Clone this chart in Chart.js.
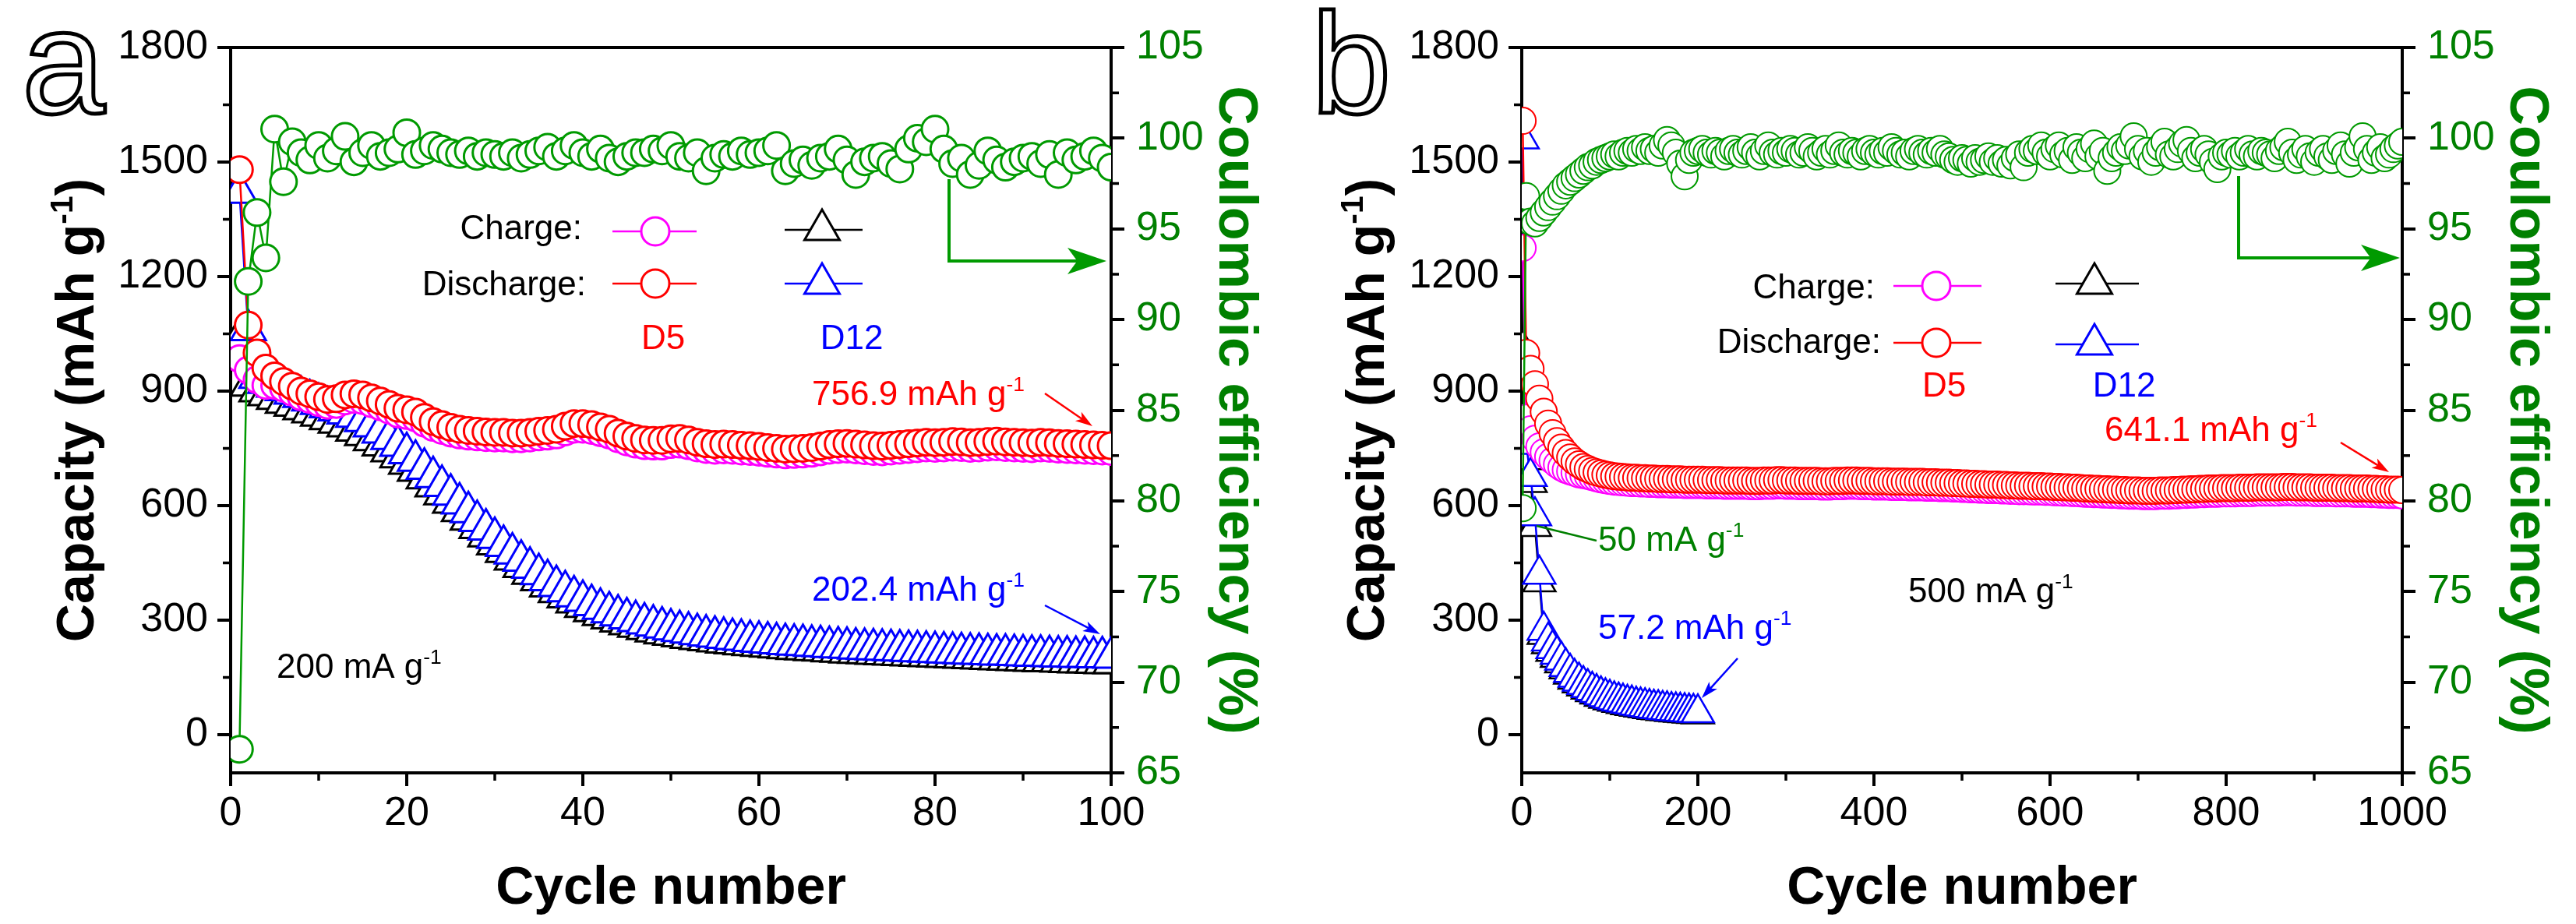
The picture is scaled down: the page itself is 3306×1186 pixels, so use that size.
<!DOCTYPE html>
<html>
<head>
<meta charset="utf-8">
<script src="https://cdn.jsdelivr.net/npm/chart.js@4.4.1/dist/chart.umd.min.js"></script>
<style>
  html, body { margin: 0; padding: 0; background: #fff; }
  #wrap { position: relative; width: 3306px; height: 1186px; }
  canvas { position: absolute; top: 0; }
  #chartA { left: 0; }
  #chartB { left: 1653px; }
</style>
</head>
<body>
<div id="wrap">
  <canvas id="chartA" width="1653" height="1186"></canvas>
  <canvas id="chartB" width="1653" height="1186"></canvas>
</div>
<script>
// ---- Panel a: 200 mA g-1, cycles 1..100 ----
const cyclesA = Array.from({length: 100}, (_, i) => i + 1);

const dischargeD5A = [
  1480, 1073, 1000, 960, 940, 925, 913, 900, 893, 885,
  878, 880, 890, 893, 890, 882, 874, 865, 855, 851,
  845, 831, 820, 812, 805, 800, 797, 795, 793, 792,
  792, 790, 790, 792, 795, 797, 800, 808, 815, 815,
  812, 806, 800, 790, 782, 776, 772, 771, 771, 775,
  776, 772, 766, 762, 760, 761, 760, 758, 757, 755,
  752, 750, 748, 749, 750, 752, 756, 760, 762, 763,
  761, 759, 757, 756, 758, 760, 762, 764, 766, 765,
  766, 768, 767, 765, 766, 768, 769, 767, 766, 765,
  764, 766, 765, 763, 762, 761, 760, 759, 758, 757
];
const chargeD5A = [
  985, 955, 930, 915, 915, 908, 897, 885, 878, 870,
  863, 865, 874, 878, 875, 867, 859, 850, 840, 836,
  830, 816, 805, 797, 790, 785, 782, 780, 778, 777,
  777, 775, 775, 777, 780, 782, 785, 793, 800, 800,
  797, 791, 785, 775, 767, 761, 757, 756, 756, 760,
  761, 757, 751, 747, 745, 746, 745, 743, 742, 740,
  737, 735, 733, 734, 735, 737, 741, 745, 747, 748,
  746, 744, 742, 741, 743, 745, 747, 749, 751, 750,
  751, 753, 752, 750, 751, 753, 754, 752, 751, 750,
  749, 751, 750, 748, 747, 746, 745, 744, 743, 742
];
const dischargeD12A = [
  1420, 1060, 935, 922, 912, 903, 894, 885, 876, 867,
  858, 850, 842, 833, 822, 808, 792, 775, 757, 738,
  718, 697, 675, 652, 629, 606, 583, 560, 538, 516,
  495, 475, 456, 438, 421, 405, 390, 376, 363, 351,
  340, 330, 321, 313, 305, 298, 292, 286, 281, 276,
  272, 268, 264, 260, 257, 254, 251, 249, 246, 244,
  242, 240, 238, 236, 235, 233, 232, 230, 229, 228,
  226, 225, 224, 223, 222, 221, 220, 219, 218, 217,
  216, 215, 214, 213, 212, 211, 210, 210, 209, 208,
  207, 207, 206, 205, 205, 204, 204, 203, 203, 202
];
const chargeD12A = [
  1040, 915, 900, 890, 880, 870, 862, 853, 845, 836,
  827, 818, 808, 797, 785, 772, 758, 743, 727, 710,
  692, 672, 651, 630, 608, 586, 564, 542, 520, 499,
  479, 459, 440, 422, 405, 389, 374, 360, 347, 335,
  324, 314, 305, 297, 290, 283, 277, 271, 266, 262,
  258, 254, 251, 248, 245, 242, 240, 237, 235, 233,
  231, 229, 227, 225, 224, 222, 221, 219, 218, 216,
  215, 214, 212, 211, 210, 209, 208, 207, 206, 205,
  204, 203, 202, 201, 200, 199, 198, 197, 196, 195,
  194, 193, 193, 192, 191, 190, 190, 189, 188, 188
];
const coulombicA = [
  66.3, 92.1, 95.9, 93.4, 100.5, 97.6, 99.8, 99.2, 98.8, 99.6,
  98.9, 99.3, 100.1, 98.7, 99.2, 99.6, 99.0, 99.2, 99.4, 100.3,
  99.1, 99.3, 99.6, 99.4, 99.2, 99.1, 99.3, 99.0, 99.2, 99.1,
  99.0, 99.2, 98.9, 99.1, 99.3, 99.5, 99.0, 99.3, 99.6, 99.2,
  99.0, 99.4, 98.9, 98.7, 99.0, 99.2, 99.2, 99.4, 99.3, 99.6,
  99.0, 98.9, 99.2, 98.2, 98.9, 99.1, 99.0, 99.3, 99.1, 99.2,
  99.3, 99.6, 98.2, 98.6, 98.8, 98.5, 98.9, 99.0, 99.4, 98.8,
  98.0, 98.7, 98.9, 99.0, 98.6, 98.3, 99.4, 100.0, 99.8, 100.5,
  99.4, 98.6, 98.9, 98.0, 98.5, 99.3, 98.8, 98.4, 98.7, 98.9,
  99.0, 98.6, 99.1, 98.0, 99.2, 98.8, 99.0, 99.3, 98.9, 98.4
];

// ---- Panel b: 500 mA g-1, cycles 1, 5, 10 ... 1000 ----
const cyclesB = [1].concat(Array.from({length: 200}, (_, i) => 5 * (i + 1)));
const cyclesB12 = cyclesB.slice(0, 41);

const dischargeD5B = [
  1608, 1000, 958, 918, 880, 846, 815, 790, 769, 752, 738, 726, 716, 708, 701, 696, 691, 687, 684, 681, 679,
  677, 676, 675, 674, 673, 673, 672, 672, 671, 671, 670, 670, 670, 669, 669, 669, 668, 668, 668, 668,
  668, 667, 667, 667, 667, 666, 666, 666, 666, 666, 666, 665, 665, 665, 666, 666, 666, 667, 667, 666,
  666, 666, 665, 665, 665, 665, 665, 664, 664, 664, 665, 665, 665, 666, 666, 666, 665, 665, 665, 664,
  664, 664, 664, 663, 663, 663, 663, 662, 662, 662, 662, 661, 661, 661, 660, 660, 660, 659, 659, 658,
  658, 657, 657, 656, 656, 655, 655, 655, 654, 654, 653, 653, 652, 652, 652, 651, 651, 651, 650, 650,
  649, 649, 648, 648, 647, 647, 646, 645, 645, 644, 644, 643, 643, 642, 642, 641, 641, 640, 640, 640,
  639, 639, 639, 639, 640, 640, 640, 641, 641, 642, 642, 643, 643, 644, 644, 645, 645, 645, 646, 646,
  646, 646, 647, 647, 647, 647, 648, 648, 648, 648, 648, 648, 649, 649, 649, 648, 648, 648, 648, 647,
  647, 647, 647, 647, 646, 646, 646, 646, 645, 645, 645, 645, 644, 644, 643, 643, 642, 642, 642, 641
];
const chargeD5B = [
  1275, 830, 800, 775, 755, 740, 728, 718, 708, 700, 694, 690, 686, 682, 680, 678, 675, 672, 669, 667, 665,
  663, 662, 661, 660, 659, 659, 658, 658, 657, 657, 656, 656, 656, 655, 655, 655, 654, 654, 654, 654,
  654, 653, 653, 653, 653, 652, 652, 652, 652, 652, 652, 651, 651, 651, 652, 652, 652, 653, 653, 652,
  652, 652, 651, 651, 651, 651, 651, 650, 650, 650, 651, 651, 651, 652, 652, 652, 651, 651, 651, 650,
  650, 650, 650, 649, 649, 649, 649, 648, 648, 648, 648, 647, 647, 647, 646, 646, 646, 645, 645, 644,
  644, 643, 643, 642, 642, 641, 641, 641, 640, 640, 639, 639, 638, 638, 638, 637, 637, 637, 636, 636,
  635, 635, 634, 634, 633, 633, 632, 631, 631, 630, 630, 629, 629, 628, 628, 627, 627, 626, 626, 626,
  625, 625, 625, 625, 626, 626, 626, 627, 627, 628, 628, 629, 629, 630, 630, 631, 631, 631, 632, 632,
  632, 632, 633, 633, 633, 633, 634, 634, 634, 634, 634, 634, 635, 635, 635, 634, 634, 634, 634, 633,
  633, 633, 633, 633, 632, 632, 632, 632, 631, 631, 631, 631, 630, 630, 629, 629, 628, 628, 628, 627
];
const dischargeD12B = [
  1560, 760, 676, 573, 420, 273, 245, 225, 210, 195, 178, 163, 150, 140, 131, 123, 116, 110, 104, 99, 95,
  91, 88, 85, 82, 80, 77, 75, 73, 71, 69, 68, 66, 65, 63, 62, 61, 60, 59, 58, 57
];
const chargeD12B = [
  1010, 720, 660, 545, 400, 262, 238, 218, 202, 188, 172, 158, 145, 135, 127, 119, 112, 106, 100, 95, 91,
  87, 84, 81, 78, 76, 74, 72, 70, 68, 66, 65, 63, 62, 60, 59, 58, 57, 56, 55, 54
];
const coulombicB = [
  79.6, 96.8, 95.4, 95.3, 95.6, 95.9, 96.2, 96.5, 96.8, 97.1, 97.4, 97.6, 97.8, 98.0, 98.2, 98.4, 98.5, 98.7, 98.8, 98.9, 99.0,
  99.1, 99.0, 99.2, 99.3, 99.2, 99.4, 99.3, 99.5, 99.3, 99.4, 99.2, 99.6, 99.9, 99.6, 99.2, 98.6, 97.9, 98.8, 99.2, 99.3,
  99.4, 99.2, 99.1, 99.3, 99.2, 99.0, 99.3, 99.4, 99.2, 99.1, 99.3, 99.5, 99.2, 99.0, 99.3, 99.6, 99.2, 99.1, 99.3, 99.2,
  99.4, 99.3, 99.1, 99.2, 99.5, 99.3, 99.0, 99.2, 99.4, 99.1, 99.3, 99.6, 99.2, 99.1, 99.3, 99.2, 99.0, 99.3, 99.4, 99.2,
  99.1, 99.3, 99.2, 99.5, 99.3, 99.1, 99.2, 99.0, 99.3, 99.4, 99.2, 99.1, 99.3, 99.2, 99.4, 99.1, 99.0, 98.8, 98.7, 98.9,
  98.8, 98.6, 98.9, 98.7, 98.8, 99.0, 98.7, 98.9, 98.6, 98.8, 98.5, 98.9, 99.1, 98.4, 99.2, 99.4, 99.3, 99.6, 99.2, 99.0,
  99.4, 99.6, 99.1, 99.3, 98.8, 99.5, 99.2, 98.9, 99.4, 99.7, 99.0, 99.3, 98.2, 98.9, 99.2, 99.5, 99.3, 99.6, 100.1, 99.4,
  99.0, 99.3, 98.7, 99.2, 99.5, 99.8, 99.1, 99.0, 99.4, 99.7, 99.9, 99.3, 98.9, 99.2, 99.4, 99.1, 98.7, 98.3, 99.0, 99.2,
  99.1, 99.3, 99.0, 99.2, 99.4, 99.1, 99.0, 99.3, 99.2, 99.1, 98.9, 99.3, 99.5, 99.8, 99.2, 98.8, 99.1, 99.4, 99.0, 98.7,
  99.2, 99.4, 99.0, 98.8, 99.3, 99.6, 99.1, 98.6, 99.2, 99.5, 100.1, 99.4, 98.8, 99.2, 99.5, 98.9, 99.1, 99.4, 99.6, 99.8
];

// ---- Axis ticks ----
const capTicksMinor = [150, 450, 750, 1050, 1350, 1650];
const ceTicksMinor = [67.5, 72.5, 77.5, 82.5, 87.5, 92.5, 97.5, 102.5];
const cycleTicksMinorA = [10, 30, 50, 70, 90];
const cycleTicksMinorB = [100, 300, 500, 700, 900];

const FONT = '"Liberation Sans", Arial, Helvetica, sans-serif';
const RED = '#ff0000', MAGENTA = '#ff00ff', BLUE = '#0000ff', BLACK = '#000000';
const GREEN = '#009a00', GREEN_TXT = '#008000';

Chart.defaults.font.family = FONT;

function pts(xs, ys) {
  return ys.map((v, i) => ({x: xs[i], y: v}));
}

function series(label, xs, ys, color, style, radius, pbw, axis) {
  return {
    label: label,
    data: pts(xs, ys),
    yAxisID: axis || 'y',
    borderColor: color,
    borderWidth: 2.5,
    pointStyle: style,
    pointRadius: radius,
    pointBorderWidth: pbw,
    pointBorderColor: color,
    pointBackgroundColor: '#ffffff',
    tension: 0,
    clip: 0
  };
}

// text with an optional superscript part
function rich(ctx, parts, x, y, size, color, align, bold) {
  const f = s => (bold ? 'bold ' : '') + s + 'px ' + FONT;
  let w = 0;
  parts.forEach(p => {
    ctx.font = f(p.sup ? size * 0.6 : size);
    p.w = ctx.measureText(p.t).width;
    w += p.w;
  });
  let cx = align === 'center' ? x - w / 2 : align === 'right' ? x - w : x;
  ctx.fillStyle = color;
  ctx.textAlign = 'left';
  ctx.textBaseline = 'alphabetic';
  parts.forEach(p => {
    ctx.font = f(p.sup ? size * 0.6 : size);
    ctx.fillText(p.t, cx, p.sup ? y - size * 0.4 : y);
    cx += p.w;
  });
}

function unit(txt) {
  return [{t: txt + ' g'}, {t: '-1', sup: true}];
}

function arrow(ctx, x1, y1, x2, y2, color, lw, len, half) {
  const ang = Math.atan2(y2 - y1, x2 - x1);
  const bx = x2 - Math.cos(ang) * len, by = y2 - Math.sin(ang) * len;
  ctx.strokeStyle = color;
  ctx.fillStyle = color;
  ctx.lineWidth = lw;
  ctx.beginPath();
  ctx.moveTo(x1, y1);
  ctx.lineTo(x2 - Math.cos(ang) * len * 0.6, y2 - Math.sin(ang) * len * 0.6);
  ctx.stroke();
  ctx.beginPath();
  ctx.moveTo(x2, y2);
  ctx.lineTo(bx - Math.sin(ang) * half, by + Math.cos(ang) * half);
  ctx.lineTo(x2 - Math.cos(ang) * len * 0.75, y2 - Math.sin(ang) * len * 0.75);
  ctx.lineTo(bx + Math.sin(ang) * half, by - Math.cos(ang) * half);
  ctx.closePath();
  ctx.fill();
}

function legendCircle(ctx, x1, x2, xc, y, color) {
  ctx.strokeStyle = color;
  ctx.lineWidth = 2.5;
  ctx.beginPath(); ctx.moveTo(x1, y); ctx.lineTo(x2, y); ctx.stroke();
  ctx.beginPath(); ctx.arc(xc, y, 18, 0, Math.PI * 2);
  ctx.fillStyle = '#fff'; ctx.fill();
  ctx.lineWidth = 3; ctx.stroke();
}

function legendTriangle(ctx, x1, x2, xc, y, color) {
  const r = 26;
  ctx.strokeStyle = color;
  ctx.lineWidth = 2.5;
  ctx.beginPath(); ctx.moveTo(x1, y); ctx.lineTo(x2, y); ctx.stroke();
  ctx.beginPath();
  ctx.moveTo(xc, y - r);
  ctx.lineTo(xc + r * 0.866, y + r / 2);
  ctx.lineTo(xc - r * 0.866, y + r / 2);
  ctx.closePath();
  ctx.fillStyle = '#fff'; ctx.fill();
  ctx.lineWidth = 3; ctx.stroke();
}

function decor(P) {
  return {
    id: 'decor',
    afterDraw(chart) {
      const ctx = chart.ctx, a = chart.chartArea;
      const sx = chart.scales.x, sy = chart.scales.y, s2 = chart.scales.y2;
      const o = P.off;
      ctx.save();
      // top frame line
      ctx.strokeStyle = '#000';
      ctx.lineWidth = 4;
      ctx.beginPath(); ctx.moveTo(a.left - 2, a.top); ctx.lineTo(a.right + 2, a.top); ctx.stroke();
      // minor ticks
      ctx.lineWidth = 3.5;
      ctx.beginPath();
      P.xMinor.forEach(v => { const p = sx.getPixelForValue(v); ctx.moveTo(p, a.bottom); ctx.lineTo(p, a.bottom + 10); });
      capTicksMinor.forEach(v => { const p = sy.getPixelForValue(v); ctx.moveTo(a.left, p); ctx.lineTo(a.left - 10, p); });
      ceTicksMinor.forEach(v => { const p = s2.getPixelForValue(v); ctx.moveTo(a.right, p); ctx.lineTo(a.right + 10, p); });
      ctx.stroke();

      // axis titles
      const midY = (a.top + a.bottom) / 2;
      ctx.save();
      ctx.translate(P.leftTitleX - o, midY);
      ctx.rotate(-Math.PI / 2);
      rich(ctx, [{t: 'Capacity (mAh g'}, {t: '-1', sup: true}, {t: ')'}], 0, 0, 68, '#000', 'center', true);
      ctx.restore();
      ctx.save();
      ctx.translate(P.rightTitleX - o, midY);
      ctx.rotate(Math.PI / 2);
      rich(ctx, [{t: 'Coulombic efficiency (%)'}], 0, 0, 70, GREEN_TXT, 'center', true);
      ctx.restore();
      rich(ctx, [{t: 'Cycle number'}], (a.left + a.right) / 2, 1160, 68, '#000', 'center', true);

      // panel letter (outlined)
      ctx.font = P.letterSize + 'px ' + FONT;
      ctx.textAlign = 'left';
      ctx.textBaseline = 'alphabetic';
      ctx.fillStyle = '#fff';
      ctx.fillText(P.letter, P.letterX - o, 145);
      ctx.lineWidth = 5;
      ctx.strokeStyle = '#000';
      ctx.strokeText(P.letter, P.letterX - o, 145);

      // legend
      const L = P.legend;
      rich(ctx, [{t: 'Charge:'}], L.chargeX - o, L.chargeY, 44, '#000', 'right');
      rich(ctx, [{t: 'Discharge:'}], L.dischargeX - o, L.dischargeY, 44, '#000', 'right');
      legendCircle(ctx, L.cx1 - o, L.cx2 - o, L.cxc - o, L.cy1, MAGENTA);
      legendCircle(ctx, L.cx1 - o, L.cx2 - o, L.cxc - o, L.cy2, RED);
      legendTriangle(ctx, L.tx1 - o, L.tx2 - o, L.txc - o, L.ty1, BLACK);
      legendTriangle(ctx, L.tx1 - o, L.tx2 - o, L.txc - o, L.ty2, BLUE);
      rich(ctx, [{t: 'D5'}], L.cxc - o + 10, L.labelY, 44, RED, 'center');
      rich(ctx, [{t: 'D12'}], L.txc - o + 38, L.labelY, 44, BLUE, 'center');

      // notes and arrows
      P.notes.forEach(n => {
        rich(ctx, unit(n.t), n.x - o, n.y, 44, n.color, 'left');
        if (n.arrow) {
          const ar = n.arrow;
          arrow(ctx, ar[0] - o, ar[1], ar[2] - o, ar[3], n.color, 2.5, 22, 7);
        }
        if (n.leader) {
          ctx.strokeStyle = n.color; ctx.lineWidth = 2.5;
          ctx.beginPath(); ctx.moveTo(n.leader[0] - o, n.leader[1]); ctx.lineTo(n.leader[2] - o, n.leader[3]); ctx.stroke();
        }
      });

      // green arrow pointing to right axis
      const g = P.ceArrow;
      ctx.strokeStyle = GREEN; ctx.lineWidth = 4;
      ctx.beginPath(); ctx.moveTo(g[0] - o, g[1]); ctx.lineTo(g[0] - o, g[2]); ctx.stroke();
      arrow(ctx, g[0] - o - 2, g[2], g[3] - o, g[2], GREEN, 4, 50, 17);
      ctx.restore();
    }
  };
}

function makeChart(id, P, datasets) {
  const tickFont = {family: FONT, size: 52};
  const grid = {drawOnChartArea: false, tickLength: 17, lineWidth: 4, color: '#000'};
  const border = {width: 4, color: '#000'};
  const plain = v => String(v);
  return new Chart(document.getElementById(id), {
    type: 'line',
    data: {datasets: datasets},
    options: {
      responsive: false,
      animation: false,
      events: [],
      devicePixelRatio: 1,
      layout: {padding: {top: 61, left: 0, right: 0, bottom: 0}},
      plugins: {legend: {display: false}, tooltip: {enabled: false}},
      scales: {
        x: {
          type: 'linear', min: 0, max: P.xMax,
          afterFit: s => { s.height = 194; },
          ticks: {stepSize: P.xStep, autoSkip: false, maxRotation: 0, font: tickFont, color: '#000', padding: 4, callback: plain},
          grid: grid, border: border
        },
        y: {
          position: 'left', min: -100, max: 1800,
          afterFit: s => { s.width = P.leftW; },
          ticks: {stepSize: 300, includeBounds: false, font: tickFont, color: '#000', padding: 12, callback: plain},
          grid: grid, border: border
        },
        y2: {
          position: 'right', min: 65, max: 105,
          afterFit: s => { s.width = P.rightW; },
          ticks: {stepSize: 5, font: tickFont, color: GREEN_TXT, padding: 15, callback: plain},
          grid: grid, border: border
        }
      }
    },
    plugins: [decor(P)]
  });
}

const panelA = {
  off: 0, xMax: 100, xStep: 20, leftW: 296, rightW: 227, xMinor: cycleTicksMinorA,
  letter: 'a', letterX: 28, letterSize: 192,
  leftTitleX: 120, rightTitleX: 1565,
  legend: {chargeX: 747, chargeY: 307, dischargeX: 752, dischargeY: 379,
    cx1: 786, cx2: 894, cxc: 841, cy1: 297, cy2: 364,
    tx1: 1007, tx2: 1107, txc: 1055, ty1: 295, ty2: 364, labelY: 448},
  notes: [
    {t: '756.9 mAh', x: 1042, y: 520, color: RED, arrow: [1341, 505, 1402, 547]},
    {t: '202.4 mAh', x: 1042, y: 771, color: BLUE, arrow: [1341, 777, 1412, 814]},
    {t: '200 mA', x: 355, y: 870, color: BLACK}
  ],
  ceArrow: [1218, 230, 335, 1420]
};

const panelB = {
  off: 1653, xMax: 1000, xStep: 200, leftW: 300, rightW: 223, xMinor: cycleTicksMinorB,
  letter: 'b', letterX: 1683, letterSize: 184,
  leftTitleX: 1776, rightTitleX: 3222,
  legend: {chargeX: 2406, chargeY: 383, dischargeX: 2414, dischargeY: 453,
    cx1: 2430, cx2: 2543, cxc: 2485, cy1: 367, cy2: 440,
    tx1: 2638, tx2: 2745, txc: 2688, ty1: 364, ty2: 442, labelY: 509},
  notes: [
    {t: '641.1 mAh', x: 2701, y: 566, color: RED, arrow: [3004, 568, 3066, 606]},
    {t: '50 mA', x: 2051, y: 707, color: GREEN_TXT, leader: [2049, 694, 1972, 675]},
    {t: '57.2 mAh', x: 2051, y: 820, color: BLUE, arrow: [2230, 845, 2184, 896]},
    {t: '500 mA', x: 2449, y: 773, color: BLACK}
  ],
  ceArrow: [2873, 226, 331, 3080]
};

makeChart('chartA', panelA, [
  series('CE', cyclesA, coulombicA, GREEN, 'circle', 17, 3, 'y2'),
  series('D5 discharge', cyclesA, dischargeD5A, RED, 'circle', 17, 3),
  series('D5 charge', cyclesA, chargeD5A, MAGENTA, 'circle', 17, 3),
  series('D12 discharge', cyclesA, dischargeD12A, BLUE, 'triangle', 26, 3),
  series('D12 charge', cyclesA, chargeD12A, BLACK, 'triangle', 26, 3)
]);

makeChart('chartB', panelB, [
  series('CE', cyclesB, coulombicB, GREEN, 'circle', 17, 2, 'y2'),
  series('D5 discharge', cyclesB, dischargeD5B, RED, 'circle', 17, 2),
  series('D5 charge', cyclesB, chargeD5B, MAGENTA, 'circle', 17, 2),
  series('D12 discharge', cyclesB12, dischargeD12B, BLUE, 'triangle', 24, 2.5),
  series('D12 charge', cyclesB12, chargeD12B, BLACK, 'triangle', 24, 2.5)
]);
</script>
</body>
</html>
